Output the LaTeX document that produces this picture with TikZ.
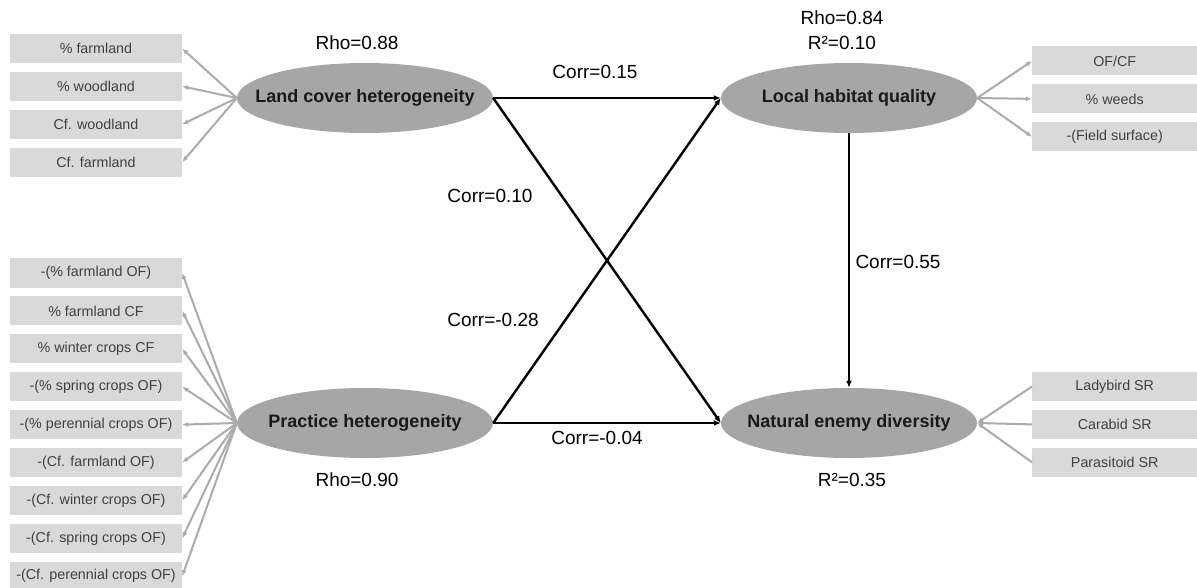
\documentclass[tikz,border=0pt]{standalone}
\usepackage{fontspec}
\setmainfont{Liberation Sans}
\usepackage{xcolor}
\usetikzlibrary{positioning,arrows.meta,shapes.geometric}
\definecolor{latentgray}{HTML}{A6A6A6}
\definecolor{boxgray}{HTML}{D9D9D9}
\definecolor{linegray}{HTML}{ABABAB}
\definecolor{textgray}{HTML}{404040}

\begin{document}
\begin{tikzpicture}[x=1pt,y=-1pt,
    latent/.style={ellipse,fill=latentgray,minimum width=256pt,minimum height=70pt,inner xsep=-40pt,inner ysep=0pt,text=black!90,font=\fontsize{18}{20}\selectfont\bfseries},
    item/.style={fill=boxgray,minimum width=172pt,minimum height=29pt,inner sep=0pt,text=textgray,font=\fontsize{14.3}{16}\selectfont},
    ritem/.style={item,minimum width=165pt},
    load/.style={draw=linegray,line width=2pt,-{Latex[length=6pt,width=5pt]}},
    effect/.style={draw=black,line width=2.4pt,-{Latex[length=7pt,width=6pt]}},
    lab/.style={font=\fontsize{19}{21}\selectfont},
    node distance=8.5pt
  ]
    \useasboundingbox (0,0) rectangle (1197,588);

    % latent variables
    \node[latent] (land) at (365,98) {Land cover heterogeneity};
    \node[latent] (prac) at (365,423) {Practice heterogeneity};
    \node[latent] (hab) at (849,98) {Local habitat quality};
    \node[latent] (nat) at (849,423) {Natural enemy diversity};

    % land cover indicators
    \node[item] (lc1) at (96,48.5) {\% farmland};
    \node[item,below=of lc1] (lc2) {\% woodland};
    \node[item,below=of lc2] (lc3) {Cf. woodland};
    \node[item,below=of lc3] (lc4) {Cf. farmland};

    % practice indicators
    \node[item] (pr1) at (96,273) {-(\% farmland OF)};
    \node[item,below=of pr1] (pr2) {\% farmland CF};
    \node[item,below=of pr2] (pr3) {\% winter crops CF};
    \node[item,below=of pr3] (pr4) {-(\% spring crops OF)};
    \node[item,below=of pr4] (pr5) {-(\% perennial crops OF)};
    \node[item,below=of pr5] (pr6) {-(Cf. farmland OF)};
    \node[item,below=of pr6] (pr7) {-(Cf. winter crops OF)};
    \node[item,below=of pr7] (pr8) {-(Cf. spring crops OF)};
    \node[item,below=of pr8] (pr9) {-(Cf. perennial crops OF)};

    % habitat indicators
    \node[ritem,anchor=west] (hq1) at (1032,61) {OF/CF};
    \node[ritem,below=of hq1] (hq2) {\% weeds};
    \node[ritem,below=of hq2] (hq3) {-(Field surface)};

    % natural enemy indicators
    \node[ritem,anchor=west] (ne1) at (1032,386.5) {Ladybird SR};
    \node[ritem,below=of ne1] (ne2) {Carabid SR};
    \node[ritem,below=of ne2] (ne3) {Parasitoid SR};

    % labels
    \node[lab] (rholand) at (357,43) {Rho=0.88};
    \node[lab] (rhohab) at (842,18) {Rho=0.84};
    \node[lab] (rsqhab) at (842,43) {R²=0.10};
    \node[lab] (rhoprac) at (357,480) {Rho=0.90};
    \node[lab] (rsqnat) at (852,480) {R²=0.35};
    \node[lab] (clh) at (595,72) {Corr=0.15};
    \node[lab] (cln) at (490,196) {Corr=0.10};
    \node[lab] (cph) at (493,320) {Corr=-0.28};
    \node[lab] (cpn) at (597,438) {Corr=-0.04};
    \node[lab] (chn) at (898,262) {Corr=0.55};

    % loadings
    \draw[load] (land.west) -- (lc1.east);
    \draw[load] (land.west) -- (lc2.east);
    \draw[load] (land.west) -- (lc3.east);
    \draw[load] (land.west) -- (lc4.east);
    \draw[load] (prac.west) -- (pr1.east);
    \draw[load] (prac.west) -- (pr2.east);
    \draw[load] (prac.west) -- (pr3.east);
    \draw[load] (prac.west) -- (pr4.east);
    \draw[load] (prac.west) -- (pr5.east);
    \draw[load] (prac.west) -- (pr6.east);
    \draw[load] (prac.west) -- (pr7.east);
    \draw[load] (prac.west) -- (pr8.east);
    \draw[load] (prac.west) -- (pr9.east);
    \draw[load] (hab.east) -- (hq1.west);
    \draw[load] (hab.east) -- (hq2.west);
    \draw[load] (hab.east) -- (hq3.west);
    \draw[load] (ne1.west) -- (nat.east);
    \draw[load] (ne2.west) -- (nat.east);
    \draw[load] (ne3.west) -- (nat.east);

    % structural paths
    \draw[effect] (land.east) -- (hab.west);
    \draw[effect] (land.east) -- (nat.west);
    \draw[effect] (prac.east) -- (hab.west);
    \draw[effect] (prac.east) -- (nat.west);
    \draw[effect] (hab.south) -- (nat.north);
  \end{tikzpicture}
\end{document}
